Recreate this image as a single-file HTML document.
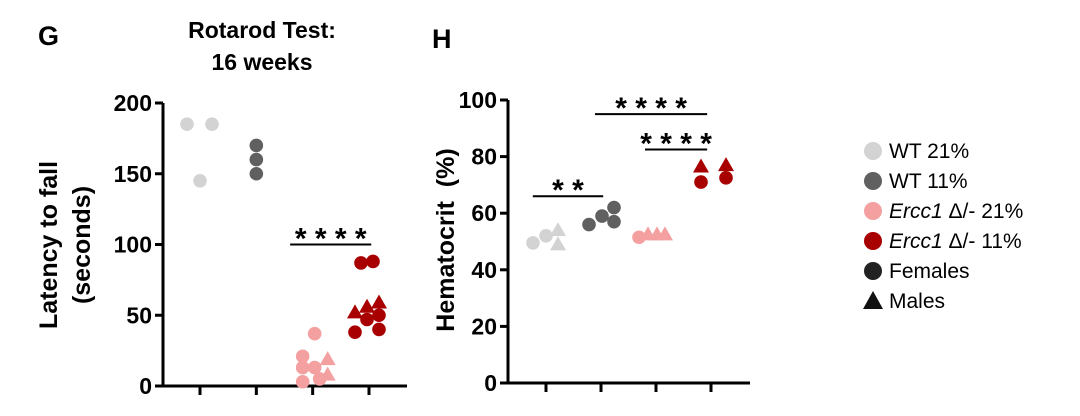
<!DOCTYPE html>
<html><head><meta charset="utf-8"><style>
body{margin:0;background:#fff;}
svg{display:block;font-family:"Liberation Sans",Arial,sans-serif;font-weight:bold;}
</style></head><body>
<svg id="fig" width="1080" height="416" viewBox="0 0 1080 416" xmlns="http://www.w3.org/2000/svg">
<text x="38" y="45" font-size="27">G</text>
<text x="262" y="38" font-size="23" text-anchor="middle">Rotarod Test:</text>
<text x="262" y="70" font-size="23" text-anchor="middle">16 weeks</text>
<text x="432" y="48" font-size="27">H</text>
<text transform="translate(57,245) rotate(-90)" font-size="25" text-anchor="middle">Latency to fall</text>
<text transform="translate(90,245) rotate(-90)" font-size="25" text-anchor="middle">(seconds)</text>
<text transform="translate(454,240) rotate(-90)" font-size="25" text-anchor="middle" xml:space="preserve">Hematocrit  (%)</text>
<g id="gG"></g>
<g id="gH"></g>
<g id="legend"></g>
</svg>
<script>
const colors = ['#d3d3d3','#606060','#f4a0a0','#a80000'];
// Panel G data
const gTicks = [0,50,100,150,200];
const gGroup = [0,0,0,1,1,1,2,2,2,2,2,2,2,2,3,3,3,3,3,3,3,3,3];
const gOffset = [-13,12,0,0,0,0,-10,-10,-10,2,2,7,15,15,-8,4,-14,-2,10,10,-14,-2,10];
const gValue = [185,185,145,170,160,150,21,13,3,37,13,5,19,8,87,88,38,47,50,40,52,56,59];
const gShape = ['c','c','c','c','c','c','c','c','c','c','c','c','t','t','c','c','c','c','c','c','t','t','t'];
const gSig = [[1.6,3.04,100,'* * * *']];
// Panel H data
const hTicks = [0,20,40,60,80,100];
const hGroup = [0,0,0,0,1,1,1,1,2,2,2,2,3,3,3,3];
const hOffset = [-13,0,12,12,-12,1,13,13,-17,-8,1,9,-10,-10,15,15];
const hValue = [49.5,52,54,49,56,59,62,57,51.5,52.5,52.5,52.5,71,76.5,72.5,77];
const hShape = ['c','c','t','t','c','c','c','c','c','t','t','t','c','t','c','t'];
const hSig = [[-0.24,1.04,66,'* *'],[0.89,2.93,95,'* * * *'],[1.8,2.93,82.5,'* * * *']];
const legendLabels = ['WT 21%','WT 11%','Ercc1 \u0394/- 21%','Ercc1 \u0394/- 11%','Females','Males'];

const NS='http://www.w3.org/2000/svg';
function mk(tag,attrs,parent){const e=document.createElementNS(NS,tag);for(const k in attrs)e.setAttribute(k,attrs[k]);parent.appendChild(e);return e;}

function panel(g,cfg){
  const y=v=>cfg.y0-(v-cfg.min)/(cfg.max-cfg.min)*(cfg.y0-cfg.y1);
  const x=i=>cfg.xs[0]+i*(cfg.xs[1]-cfg.xs[0])/3;
  const ax=mk('path',{d:`M${cfg.ax},${cfg.y1} V${cfg.y0} H${cfg.xend}`,stroke:'#000','stroke-width':3,fill:'none'},g);
  
  
  cfg.ticks.forEach(t=>{
    const l=mk('line',{x1:cfg.ax-8,x2:cfg.ax,y1:y(t),y2:y(t),stroke:'#000','stroke-width':3},g);
    
    
    const tx=mk('text',{x:cfg.ax-11,y:y(t)+8,'font-size':23,'text-anchor':'end'},g);
    tx.textContent=t;
    
    
  });
  for(let i=0;i<4;i++){
    const l=mk('line',{x1:x(i),x2:x(i),y1:cfg.y0,y2:cfg.y0+9,stroke:'#000','stroke-width':3},g);
    
    
  }
  cfg.grp.forEach((gi,k)=>{
    const cx=x(gi)+cfg.off[k], cy=y(cfg.val[k]);
    let m;
    if(cfg.shape[k]==='c') m=mk('circle',{cx,cy,r:6.8,fill:colors[gi]},g);
    else m=mk('polygon',{points:`${cx},${cy-8} ${cx-8},${cy+6} ${cx+8},${cy+6}`,fill:colors[gi]},g);
    
    
  });
  cfg.sig.forEach(s=>{
    const x1=x(s[0]),x2=x(s[1]),yy=y(s[2]);
    const l=mk('line',{x1,x2,y1:yy,y2:yy,stroke:'#000','stroke-width':2},g);
    
    
    const t=mk('text',{x:(x1+x2)/2,y:yy+4,'font-size':30,'text-anchor':'middle','font-weight':'bold'},g);
    t.textContent=s[3];
    
    
  });
}
panel(document.getElementById('gG'),{min:0,max:200,y0:386,y1:103,ax:163,xend:407,xs:[200,369],ticks:gTicks,grp:gGroup,off:gOffset,val:gValue,shape:gShape,sig:gSig});
panel(document.getElementById('gH'),{min:0,max:100,y0:383,y1:100,ax:508,xend:750,xs:[546,711],ticks:hTicks,grp:hGroup,off:hOffset,val:hValue,shape:hShape,sig:hSig});

const lg=document.getElementById('legend');
legendLabels.forEach((lab,i)=>{
  const yy=151+i*30, cx=873;
  let m;
  if(i<4) m=mk('circle',{cx,cy:yy,r:9,fill:colors[i]},lg);
  else if(i===4) m=mk('circle',{cx,cy:yy,r:9,fill:'#222'},lg);
  else m=mk('polygon',{points:`${cx},${yy-10} ${cx-10},${yy+8} ${cx+10},${yy+8}`,fill:'#111'},lg);
  
  
  const t=mk('text',{x:889,y:yy+7,'font-size':21,'font-weight':'normal'},lg);
  if(i===2||i===3){
    const a=mk('tspan',{'font-style':'italic'},t);a.textContent='Ercc1';
    const b=mk('tspan',{},t);b.textContent=lab.slice(5);
  } else t.textContent=lab;
  
  
});
</script>
</body></html>
